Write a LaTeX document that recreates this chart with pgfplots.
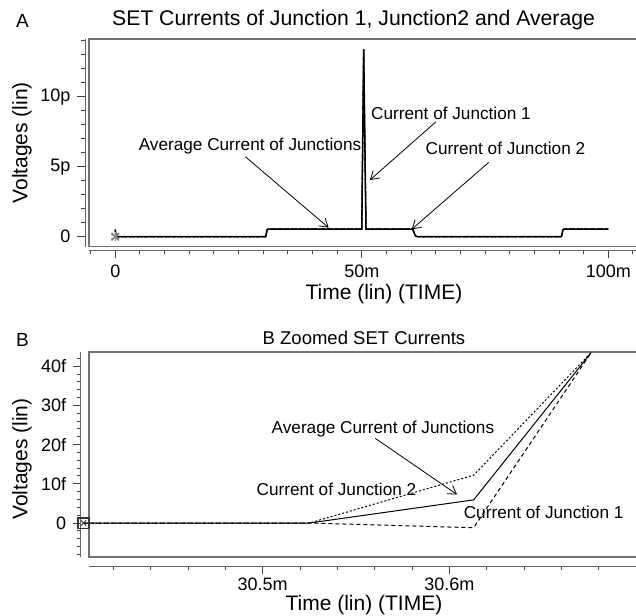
\documentclass[border=0pt]{standalone}
\usepackage{pgfplots}
\pgfplotsset{compat=1.18}
\usepackage{fontspec}
\setmainfont{Liberation Sans}
\usetikzlibrary{arrows.meta}
\newcommand{\fs}[1]{\fontsize{#1}{#1}\selectfont}
\pgfplotsset{
  setstyle/.style={
    scale only axis, anchor=north west,
    separate axis lines,
    axis x line*=bottom, axis y line*=left,
    axis line style={black!60, line width=0.5pt, -},
    tick align=outside,
    tick style={black!75, line width=0.5pt},
    major tick length=3.75pt, minor tick length=2pt,
    ticklabel style={font=\fs{9}},
    label style={font=\fs{10.5}},
    clip=false,
  },
}
\tikzset{
  annot/.style={font=\fs{8.6}, inner sep=0pt},
  arr/.style={-{Straight Barb[length=4pt,width=5pt]}, line width=0.4pt},
  avg/.style={black, line width=0.5pt},
  j1/.style={black, line width=0.5pt, dash pattern=on 2pt off 1.5pt},
  j2/.style={black, line width=0.5pt, dash pattern=on 1pt off 1pt},
}
\pgfplotstableread{
t v
0 0.5
0.15 0
30.5 0
30.8 0.5
31.1 0.55
50.0 0.55
50.38 13.4
50.85 0.55
60.3 0.55
60.9 0.05
61.3 0
90.5 0
90.8 0.5
91.1 0.55
100 0.55
}\tableA
\pgfplotstableread{
t avg j1 j2
30.404 0 0 0
30.525 0 0 0
30.613 5.9 -1.2 12.2
30.676 43.5 43.5 43.5
}\tableB
\begin{document}
\begin{tikzpicture}
\useasboundingbox (0,0) rectangle (318pt,-307.5pt);
\clip (0,0) rectangle (318pt,-307.5pt);
% ---------------- Panel A
\begin{axis}[setstyle,
  at={(44.65pt,-19.5pt)}, width=275.35pt, height=103.75pt,
  xmin=-5.27, xmax=106.43, ymin=-0.7, ymax=14.12,
  axis x line shift=1.75pt, axis y line shift=2.15pt,
  xtick={0,50,100}, xticklabels={\mbox{0},\mbox{50m},\mbox{100m}},
  minor xtick={-5,0,...,105},
  ytick={0,5,10}, yticklabels={\mbox{0},\mbox{5p},\mbox{10p}},
  minor ytick={0,1,...,14},
  xlabel={Time (lin) (TIME)}, ylabel={Voltages (lin)},
  xlabel style={at={(axis description cs:0.535,-0.229)}, anchor=center},
  ylabel style={at={(axis description cs:-0.1222,0.4998)}, anchor=center},
]
\draw[black!55, line width=0.9pt] (rel axis cs:0,0) rectangle (rel axis cs:1,1);
\addplot[j2, line width=0.6pt] table[x=t, y=v] {\tableA};
\addplot[j1, line width=0.6pt] table[x=t, y=v] {\tableA};
\addplot[avg, line width=0.75pt] table[x=t, y=v] {\tableA};
\addplot[only marks, mark=x, mark size=2.6pt, black!55, line width=0.7pt] coordinates {(0,0)};
\addplot[only marks, mark=asterisk, mark size=2.3pt, black!45, line width=0.5pt] coordinates {(0,0)};
\node[annot] at (axis cs:27.32,6.5) {Average Current of Junctions};
\draw[arr] (axis cs:26.39,5.71) -- (axis cs:43.27,0.643);
\node[annot] at (axis cs:68.09,8.81) {Current of Junction 1};
\draw[arr] (axis cs:65.05,8.21) -- (axis cs:51.66,4.05);
\node[annot] at (axis cs:79.13,6.31) {Current of Junction 2};
\draw[arr] (axis cs:75.76,5.31) -- (axis cs:60.14,0.53);
\node[font=\fs{10.6}] at (axis description cs:0.4798,1.090) {SET Currents of Junction 1, Junction2 and Average};
\node[font=\fs{9.5}] at (axis description cs:-0.1213,1.087) {A};
\end{axis}
% ---------------- Panel B
\begin{axis}[setstyle,
  at={(44.65pt,-176.15pt)}, width=275.35pt, height=102.5pt,
  xmin=30.40711, xmax=30.70212, ymin=-8.75, ymax=43.55,
  axis x line shift=4.35pt, axis y line shift=4.3pt,
  xtick={30.5,30.6}, xticklabels={\mbox{30.5m},\mbox{30.6m}},
  xticklabel style={yshift=1.5pt},
  minor xtick={30.42,30.44,...,30.70},
  ytick={0,10,20,30,40}, yticklabels={\mbox{0},\mbox{10f},\mbox{20f},\mbox{30f},\mbox{40f}},
  minor ytick={-8,-6,...,42},
  xlabel={Time (lin) (TIME)}, ylabel={Voltages (lin)},
  xlabel style={at={(axis description cs:0.4988,-0.2327)}, anchor=center},
  ylabel style={at={(axis description cs:-0.1222,0.4795)}, anchor=center},
]
\draw[black!55, line width=0.9pt] (rel axis cs:0,0) rectangle (rel axis cs:1,1);
\addplot[j2] table[x=t, y=j2] {\tableB};
\addplot[j1] table[x=t, y=j1] {\tableB};
\addplot[avg] table[x=t, y=avg] {\tableB};
\addplot[only marks, mark=square, mark size=2.7pt, black!80, line width=0.9pt] coordinates {(30.404,0)};
\addplot[only marks, mark=x, mark size=1.9pt, black!80, line width=0.5pt] coordinates {(30.404,0)};
\node[annot] at (axis cs:30.5644,23.9) {Average Current of Junctions};
\draw[arr] (axis cs:30.5603,21.6) -- (axis cs:30.6041,7.27);
\node[annot] at (axis cs:30.5395,8.6) {Current of Junction 2};
\node[annot] at (axis cs:30.6505,2.63) {Current of Junction 1};
\node[font=\fs{9.25}] at (axis description cs:0.4988,1.068) {B Zoomed SET Currents};
\node[font=\fs{9.5}] at (axis description cs:-0.1213,1.06) {B};
\end{axis}
\end{tikzpicture}
\end{document}
